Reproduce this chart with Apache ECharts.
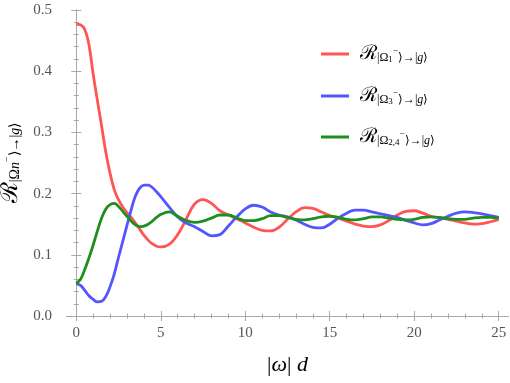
<!DOCTYPE html>
<html>
<head>
<meta charset="utf-8">
<script src="https://cdn.jsdelivr.net/npm/echarts@6/dist/echarts.min.js"></script>
<style>
	html, body { margin: 0; padding: 0; background: #fff; }
	#main { width: 510px; height: 383px; }
</style>
</head>
<body>
<div id="main"></div>
<script>
// |omega| d 的取值（前段加密）
const xs = [0, 0.25, 0.5, 0.75, 1, 1.25, 1.5, 1.75, 2, 2.25, 2.5, 2.75, 3, 3.25, 3.5, 3.75, 4, 4.25, 4.5, 4.75,
	5, 5.5, 6, 6.5, 7, 7.5, 8, 8.5, 9, 9.5,
	10, 10.5, 11, 11.5, 12, 12.5, 13, 13.5, 14, 14.5, 15, 15.5, 16, 16.5, 17, 17.5, 18, 18.5, 19, 19.5,
	20, 20.5, 21, 21.5, 22, 22.5, 23, 23.5, 24, 24.5, 25];
// 红线 |Ω1->
const r1 = [0.477, 0.476, 0.468, 0.443, 0.395, 0.352, 0.310, 0.267, 0.233, 0.206, 0.190, 0.178, 0.169, 0.161, 0.152, 0.142,
	0.132, 0.124, 0.118, 0.114,
	0.113, 0.117, 0.133, 0.158, 0.183, 0.190, 0.184, 0.172, 0.165, 0.159,
	0.152, 0.145, 0.140, 0.139, 0.145, 0.158, 0.170, 0.177, 0.176, 0.170, 0.164, 0.160, 0.155, 0.150, 0.147, 0.146,
	0.149, 0.156, 0.165, 0.171,
	0.172, 0.168, 0.163, 0.160, 0.158, 0.155, 0.152, 0.150, 0.151, 0.154, 0.158];
// 蓝线 |Ω3->
const r3 = [0.053, 0.050, 0.042, 0.033, 0.027, 0.023, 0.024, 0.032, 0.048, 0.069, 0.096, 0.122, 0.148, 0.174, 0.196, 0.209,
	0.214, 0.214, 0.210, 0.203,
	0.195, 0.178, 0.162, 0.152, 0.146, 0.138, 0.131, 0.133, 0.147, 0.162,
	0.175, 0.181, 0.178, 0.170, 0.165, 0.162, 0.157, 0.150, 0.145, 0.144, 0.150, 0.160, 0.168, 0.173, 0.173, 0.170,
	0.167, 0.164, 0.161, 0.156,
	0.152, 0.149, 0.151, 0.157, 0.163, 0.168, 0.170, 0.169, 0.167, 0.164, 0.161];
// 绿线 |Ω2,4->
const r24 = [0.053, 0.060, 0.076, 0.095, 0.116, 0.139, 0.160, 0.175, 0.182, 0.184, 0.179, 0.171, 0.163, 0.155, 0.149, 0.146,
	0.147, 0.150, 0.155, 0.161,
	0.166, 0.170, 0.163, 0.156, 0.153, 0.155, 0.160, 0.165, 0.165, 0.160,
	0.156, 0.156, 0.159, 0.164, 0.164, 0.161, 0.158, 0.157, 0.159, 0.162, 0.163, 0.161, 0.158, 0.157, 0.159, 0.162,
	0.162, 0.160, 0.158, 0.157,
	0.158, 0.161, 0.162, 0.161, 0.159, 0.158, 0.158, 0.160, 0.161, 0.161, 0.160];
// 刻度
const xMajor = [0, 5, 10, 15, 20, 25];
const xMinor = [1, 2, 3, 4, 6, 7, 8, 9, 11, 12, 13, 14, 16, 17, 18, 19, 21, 22, 23, 24];
const yMajor = [0, 0.1, 0.2, 0.3, 0.4, 0.5];
const yMinor = [0.02, 0.04, 0.06, 0.08, 0.12, 0.14, 0.16, 0.18, 0.22, 0.24, 0.26, 0.28, 0.32, 0.34, 0.36, 0.38, 0.42, 0.44, 0.46, 0.48];

const frameColor = '#a8a8a8';
const serif = 'Liberation Serif';

// 公式样式
function mathStyle(big, small, tiny) {
	return {
		R: { fontFamily: 'DejaVu Serif', fontSize: big, color: '#000' },
		sub: { fontFamily: serif, fontSize: small, color: '#000', verticalAlign: 'bottom' },
		idx: { fontFamily: serif, fontSize: tiny, color: '#000', verticalAlign: 'bottom' },
		sup: { fontFamily: serif, fontSize: tiny, color: '#000', verticalAlign: 'bottom', padding: [0, 0, Math.round(tiny), 0] },
		it: { fontFamily: serif, fontStyle: 'italic', fontSize: small, color: '#000', verticalAlign: 'bottom' },
	};
}
const legendRich = mathStyle(20, 12, 9);
legendRich.R.padding = [0, 0, 0, 6];
const labels = {
	r1: '{R|ℛ}{sub||Ω}{idx|1}{sup|−}{sub|⟩→|}{it|g}{sub|⟩}',
	r3: '{R|ℛ}{sub||Ω}{idx|3}{sup|−}{sub|⟩→|}{it|g}{sub|⟩}',
	r24: '{R|ℛ}{sub||Ω}{idx|2,4}{sup|−}{sub|⟩→|}{it|g}{sub|⟩}',
};

function pairs(ys) {
	return xs.map((x, i) => [x, ys[i]]);
}

function xAxisOf(pos, values, len, withLabel) {
	return {
		type: 'value', position: pos, min: -0.55, max: 25.55,
		axisLine: { show: true, lineStyle: { color: frameColor, width: 1 } },
		axisTick: { show: true, inside: true, length: len, customValues: values, lineStyle: { color: frameColor } },
		axisLabel: withLabel
			? { show: true, customValues: values, margin: 10, fontFamily: serif, fontSize: 15, color: '#555' }
			: { show: false },
		splitLine: { show: false },
	};
}

function yAxisOf(pos, values, len, withLabel) {
	return {
		type: 'value', position: pos, min: 0, max: 0.5,
		axisLine: { show: true, lineStyle: { color: frameColor, width: 1 } },
		axisTick: { show: true, inside: true, length: len, customValues: values, lineStyle: { color: frameColor } },
		axisLabel: withLabel
			? { show: true, customValues: values, margin: 15, fontFamily: serif, fontSize: 15, color: '#555',
				formatter: (v) => v.toFixed(1) }
			: { show: false },
		splitLine: { show: false },
	};
}

const chart = echarts.init(document.getElementById('main'));

const xAxes = [
	xAxisOf('bottom', xMajor, 5, true),
	xAxisOf('bottom', xMinor, 2.5, false),
	xAxisOf('top', xMajor, 5, false),
	xAxisOf('top', xMinor, 2.5, false),
];
xAxes[0].name = '{n||}{i|ω}{n|| }{i|d}';
xAxes[0].nameLocation = 'middle';
xAxes[0].nameGap = 38;
xAxes[0].nameTextStyle = {
	rich: {
		n: { fontFamily: serif, fontSize: 22, color: '#000' },
		i: { fontFamily: serif, fontStyle: 'italic', fontSize: 22, color: '#000' },
	},
};

const yAxes = [
	yAxisOf('left', yMajor, 5, true),
	yAxisOf('left', yMinor, 2.5, false),
	yAxisOf('right', yMajor, 5, false),
	yAxisOf('right', yMinor, 2.5, false),
];
yAxes[0].name = '{R|ℛ}{sub||Ω}{it|n}{sup|−}{sub|⟩→|}{it|g}{sub|⟩}';
yAxes[0].nameLocation = 'middle';
yAxes[0].nameRotate = 90;
yAxes[0].nameGap = 26;
yAxes[0].nameTextStyle = { rich: mathStyle(24, 14, 10) };

// 每个图例单独放置
const legendTops = [39, 81, 122];
const legends = ['r1', 'r3', 'r24'].map((name, i) => ({
	orient: 'vertical',
	left: 316,
	top: legendTops[i],
	icon: 'rect',
	itemWidth: 28,
	itemHeight: 3,
	data: [name],
	formatter: (n) => labels[n],
	textStyle: { rich: legendRich },
}));

const option = {
	animation: false,
	grid: { left: 67, right: 2, top: 10, bottom: 67, containLabel: false, outerBoundsMode: 'none' },
	xAxis: xAxes,
	yAxis: yAxes,
	legend: legends,
	series: [
		{ name: 'r1', type: 'line', data: pairs(r1), color: '#ff5555' },
		{ name: 'r3', type: 'line', data: pairs(r3), color: '#5555ff' },
		{ name: 'r24', type: 'line', data: pairs(r24), color: '#1e8f1e' },
	].map((s) => Object.assign(s, {
		xAxisIndex: 0, yAxisIndex: 0, smooth: 0.4, showSymbol: false,
		lineStyle: { width: 2.8 },
	})),
};
chart.setOption(option);
</script>
</body>
</html>
